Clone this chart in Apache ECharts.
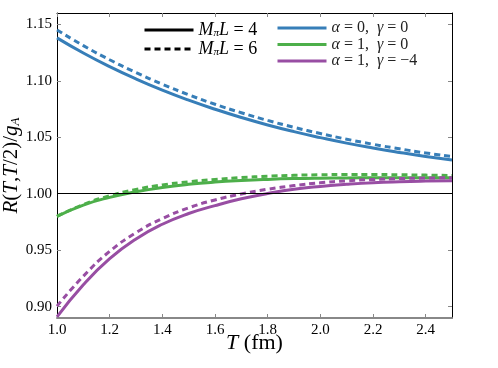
<!DOCTYPE html>
<html>
<head>
<meta charset="utf-8">
<script src="https://cdn.jsdelivr.net/npm/echarts@6/dist/echarts.min.js"></script>
<style>
  html, body { margin: 0; padding: 0; background: #fff; }
  #chart { width: 498px; height: 368px; }
</style>
</head>
<body>
<div id="chart"></div>
<script>
// T values (fm)
const tValues = [1.0, 1.1, 1.2, 1.3, 1.4, 1.5, 1.6, 1.7, 1.8, 1.9, 2.0, 2.1, 2.2, 2.3, 2.4, 2.5];

// alpha = 0, gamma = 0
const blueL4 = [1.1380, 1.1246, 1.1125, 1.1016, 1.0917, 1.0828, 1.0748, 1.0675, 1.0609, 1.0550, 1.0497, 1.0448, 1.0405, 1.0366, 1.0330, 1.0298];
const blueL6 = [1.1450, 1.1311, 1.1186, 1.1073, 1.0970, 1.0876, 1.0792, 1.0717, 1.0649, 1.0588, 1.0533, 1.0483, 1.0438, 1.0398, 1.0361, 1.0330];
// alpha = 1, gamma = 0
const greenL4 = [0.9800, 0.9900, 0.9968, 1.0017, 1.0055, 1.0083, 1.0103, 1.0117, 1.0127, 1.0134, 1.0138, 1.0140, 1.0141, 1.0142, 1.0142, 1.0142];
const greenL6 = [0.9800, 0.9905, 0.9982, 1.0038, 1.0078, 1.0106, 1.0127, 1.0143, 1.0155, 1.0163, 1.0168, 1.0170, 1.0170, 1.0168, 1.0165, 1.0161];
// alpha = 1, gamma = -4
const purpleL4 = [0.8910, 0.9195, 0.9425, 0.9600, 0.9730, 0.9825, 0.9895, 0.9955, 1.0002, 1.0040, 1.0065, 1.0083, 1.0097, 1.0106, 1.0112, 1.0116];
const purpleL6 = [0.9005, 0.9270, 0.9490, 0.9655, 0.9780, 0.9875, 0.9945, 0.9998, 1.0040, 1.0072, 1.0097, 1.0114, 1.0126, 1.0134, 1.0139, 1.0142];

const xTicks = [1.0, 1.2, 1.4, 1.6, 1.8, 2.0, 2.2, 2.4];
const yTicks = [0.90, 0.95, 1.00, 1.05, 1.10, 1.15];

const BLUE = '#377eb8';
const GREEN = '#4daf4a';
const PURPLE = '#984ea3';
const SERIF = 'Liberation Serif';
const DASH = [6, 4];

function pairs(ys) {
  return tValues.map((t, i) => [t, ys[i]]);
}

function curve(name, color, ys, dashed) {
  return {
    name: name,
    type: 'line',
    data: pairs(ys),
    smooth: true,
    showSymbol: false,
    symbol: 'none',
    color: color,
    itemStyle: { opacity: 0 },
    lineStyle: { width: 3, color: color, type: dashed ? DASH : 'solid' },
    z: 3
  };
}

const legendNames = {
  L4: '{i|M}{s|π}{i|L} = 4',
  L6: '{i|M}{s|π}{i|L} = 6',
  c1: '{g|α} = 0,  {g|γ} = 0',
  c2: '{g|α} = 1,  {g|γ} = 0',
  c3: '{g|α} = 1,  {g|γ} = −4'
};

const richLeft = {
  i: { fontFamily: SERIF, fontStyle: 'italic', fontSize: 18, color: '#000', lineHeight: 18 },
  s: { fontFamily: SERIF, fontStyle: 'italic', fontSize: 11, color: '#000', lineHeight: 18, padding: [7, 0, 0, 0] }
};
const richRight = {
  g: { fontFamily: SERIF, fontStyle: 'italic', fontSize: 16, color: '#222', lineHeight: 15 }
};

const chart = echarts.init(document.getElementById('chart'));

const tickStyle = { inside: true, length: 4, lineStyle: { color: '#888', width: 1 } };

const option = {
  animation: false,
  backgroundColor: '#fff',
  grid: { left: 57, right: 46, top: 13, bottom: 50, outerBoundsMode: 'none' },
  xAxis: [
    {
      type: 'value', min: 1.0, max: 2.5,
      name: '{i|T} (fm)', nameLocation: 'middle', nameGap: 14, nameMoveOverlap: false,
      nameTextStyle: {
        fontFamily: SERIF, fontSize: 22, color: '#000',
        rich: { i: { fontFamily: SERIF, fontStyle: 'italic', fontSize: 22, color: '#000' } }
      },
      axisLine: { lineStyle: { color: '#888', width: 2 } },
      axisTick: Object.assign({ customValues: xTicks }, tickStyle),
      axisLabel: {
        customValues: xTicks, margin: 5,
        fontFamily: SERIF, fontSize: 15, color: '#000',
        formatter: v => v.toFixed(1)
      },
      splitLine: { show: false }
    },
    {
      type: 'value', min: 1.0, max: 2.5, position: 'top',
      axisLine: { lineStyle: { color: '#000', width: 1 } },
      axisTick: Object.assign({ customValues: xTicks }, tickStyle),
      axisLabel: { show: false },
      splitLine: { show: false }
    }
  ],
  yAxis: [
    {
      type: 'value', min: 0.89, max: 1.16,
      name: '{i|R}({i|T},{i|T}/2)/{i|g}{s|A}', nameLocation: 'middle', nameGap: 35, nameMoveOverlap: false,
      nameTextStyle: {
        fontFamily: SERIF, fontSize: 21, color: '#000',
        rich: {
          i: { fontFamily: SERIF, fontStyle: 'italic', fontSize: 21, color: '#000' },
          s: { fontFamily: SERIF, fontStyle: 'italic', fontSize: 13, color: '#000', padding: [9, 0, 0, 0] }
        }
      },
      axisLine: { show: true, lineStyle: { color: '#000', width: 1 } },
      axisTick: Object.assign({ customValues: yTicks }, tickStyle),
      axisLabel: {
        customValues: yTicks, margin: 5,
        fontFamily: SERIF, fontSize: 15, color: '#000',
        formatter: v => v.toFixed(2)
      },
      splitLine: { show: false }
    },
    {
      type: 'value', min: 0.89, max: 1.16, position: 'right',
      axisLine: { show: true, lineStyle: { color: '#000', width: 1 } },
      axisTick: Object.assign({ customValues: yTicks }, tickStyle),
      axisLabel: { show: false },
      splitLine: { show: false }
    }
  ],
  legend: [
    {
      data: ['L4', 'L6'],
      orient: 'vertical', left: 138, top: 16,
      itemWidth: 49, itemHeight: 14, itemGap: 1,
      itemStyle: { opacity: 0 },
      lineStyle: { width: 3 },
      formatter: n => legendNames[n],
      textStyle: { fontFamily: SERIF, fontSize: 18, color: '#000', rich: richLeft }
    },
    {
      data: ['c1', 'c2', 'c3'],
      orient: 'vertical', left: 271, top: 15,
      itemWidth: 49, itemHeight: 12, itemGap: 0.5,
      itemStyle: { opacity: 0 },
      lineStyle: { width: 3 },
      formatter: n => legendNames[n],
      textStyle: { fontFamily: SERIF, fontSize: 16, color: '#222', lineHeight: 15, rich: richRight }
    }
  ],
  series: [
    // black keys for the M_pi L legend
    { name: 'L4', type: 'line', data: [], symbol: 'none', color: '#000', itemStyle: { opacity: 0 }, lineStyle: { width: 3, color: '#000' } },
    { name: 'L6', type: 'line', data: [], symbol: 'none', color: '#000', itemStyle: { opacity: 0 }, lineStyle: { width: 3, color: '#000', type: DASH } },
    Object.assign(curve('c1', BLUE, blueL4, false), {
      markLine: {
        silent: true, symbol: 'none', label: { show: false },
        lineStyle: { color: '#000', width: 1, type: 'solid', opacity: 1 },
        data: [{ yAxis: 1.0 }]
      }
    }),
    curve('c1 dashed', BLUE, blueL6, true),
    curve('c2', GREEN, greenL4, false),
    curve('c2 dashed', GREEN, greenL6, true),
    curve('c3', PURPLE, purpleL4, false),
    curve('c3 dashed', PURPLE, purpleL6, true)
  ]
};

chart.setOption(option);
</script>
</body>
</html>
